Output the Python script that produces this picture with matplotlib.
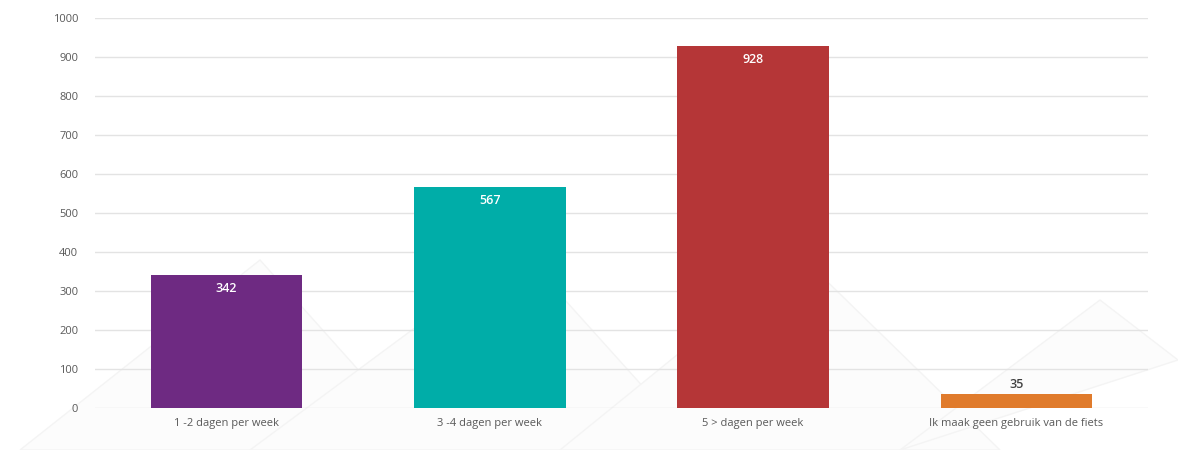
import matplotlib
matplotlib.use("Agg")
import matplotlib.pyplot as plt
from matplotlib.patches import Polygon

categories = ["1 -2 dagen per week", "3 -4 dagen per week", "5 > dagen per week",
              "Ik maak geen gebruik van de fiets"]
values = [342, 567, 928, 35]
colors = ["#6E2A82", "#00ADA8", "#B53637", "#E07B2C"]
y_ticks = list(range(0, 1001, 100))

plt.rcParams["font.family"] = ["Open Sans", "DejaVu Sans"]

fig = plt.figure(figsize=(11.78, 4.5), dpi=100)
fig.patch.set_facecolor("white")

# very faint background triangles
bg = fig.add_axes([0, 0, 1, 1], zorder=-1)
bg.set_xlim(0, 1178)
bg.set_ylim(450, 0)
bg.axis("off")
for pts in [
    [(20, 450), (260, 260), (430, 450)],
    [(250, 450), (520, 250), (700, 450)],
    [(560, 450), (800, 255), (1000, 450)],
    [(900, 450), (1100, 300), (1178, 360)],
]:
    bg.add_patch(Polygon(pts, closed=True, facecolor="#fcfcfc", edgecolor="#f4f4f4", lw=1))

ax = fig.add_axes([95 / 1178, 42 / 450, (1148 - 95) / 1178, 390 / 450])
ax.patch.set_alpha(0)
x = list(range(len(categories)))
bars = ax.bar(x, values, width=0.575, color=colors, zorder=3)

ax.set_xlim(-0.5, len(categories) - 0.5)
ax.set_ylim(0, 1000)
ax.set_yticks(y_ticks)
ax.set_xticks(x)
ax.set_xticklabels(categories)
ax.grid(axis="y", color="#e3e3e3", lw=1, zorder=0)
ax.tick_params(axis="both", length=0, labelsize=8, labelcolor="#595959")
ax.tick_params(axis="y", pad=12)
ax.tick_params(axis="x", pad=7)
for s in ax.spines.values():
    s.set_visible(False)

for b, v in zip(bars, values):
    cx = b.get_x() + b.get_width() / 2
    if v > 100:
        ax.annotate(str(v), (cx, v), xytext=(0, -10), textcoords="offset points",
                    ha="center", va="center", color="white", fontsize=9,
                    fontweight="semibold", zorder=4)
    else:
        ax.annotate(str(v), (cx, v), xytext=(0, 7), textcoords="offset points",
                    ha="center", va="center", color="#404040", fontsize=9,
                    fontweight="semibold", zorder=4)

fig.savefig("out.png", dpi=100)
